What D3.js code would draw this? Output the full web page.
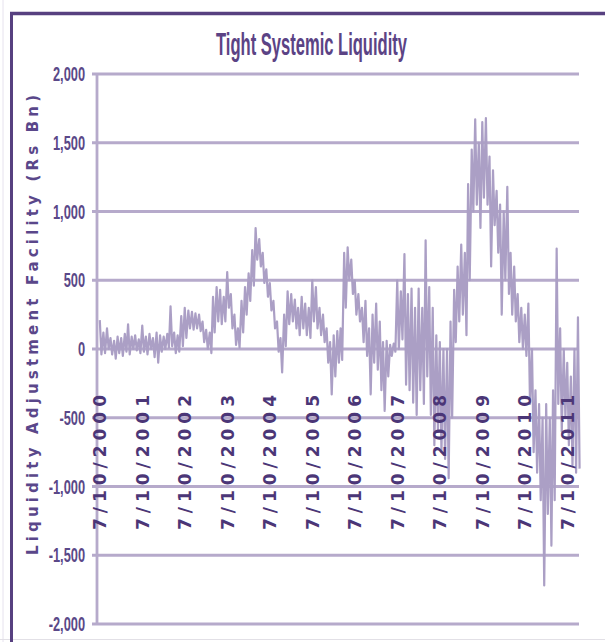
<!DOCTYPE html>
<html>
<head>
<meta charset="utf-8">
<title>Tight Systemic Liquidity</title>
<style>
    body { margin: 0; background: #fff; }
</style>
</head>
<body>
<script src="https://cdn.jsdelivr.net/npm/d3@7"></script>
<script>
    var width = 605, height = 642;

    // LAF, Rs Bn : monthly high / low, Jul 2000 .. Oct 2011
    var firstMonth = new Date(2000, 6, 1);
    var highs = [
        210, 120, 150, 80, 60, 90, 80, 110, 180, 90, 100, 70,
        170, 90, 110, 80, 120, 100, 90, 110, 310, 120, 100, 240,
        300, 280, 270, 260, 250, 200, 140, 120, 380, 450, 430, 380,
        560, 400, 250, 150, 350, 450, 550, 720, 880, 800, 700, 580,
        480, 350, 200, 80, 250, 420, 400, 360, 300, 380, 330, 300,
        500, 450, 300, 250, 150, 50, 100, 130, 150, 700, 740, 650,
        500, 400, 300, 350, 150, 250, 330, 200, 50, 60, 30, 40,
        500, 420, 690, 400, 440, 300, 440, 300, 790, 450, 300, 100,
        50, 0, 0, 200, 430, 600, 760, 700, 1200, 1450, 1670, 1500,
        1650, 1680, 1400, 1300, 1150, 1050, 1000, 1180, 700, 600, 400, 300,
        250, 330, 0, -300, -400, -500, -400, -500, -300, 730, 150, 0,
        -100, -200, 0, 230
    ];
    var lows = [
        -40, -30, 0, -40, -70, -30, -50, -20, -40, 0, -10, -30,
        -20, -40, 0, -60, -100, -20, 0, 10, 20, -30, -20, 20,
        80, 150, 140, 150, 130, 50, 0, -30, 120, 200, 180, 200,
        300, 150, 30, 10, 120, 250, 350, 460, 650, 600, 480, 380,
        280, 150, -20, -170, 20, 180, 200, 150, 100, 150, 100, 80,
        200, 150, 100, 50, -100, -330, -200, -100, -80, 300, 500, 400,
        250, 200, 50, -50, -330, -100, -150, -300, -450, -200, -50, -20,
        0, 70, -260, -300, -390, -480, -300, -400, -200, -480, -700, -600,
        -750, -800, -940, -500, 50, 200, 250, 100, 500, 1000, 1050, 880,
        1100, 1050, 600, 900, 700, 250, 500, 400, 250, 200, 50, 0,
        -50, -400, -750, -900, -1100, -1720, -1200, -1430, -1100, -400, -600, -500,
        -700, -850, -900, -870
    ];
    var tickYears = [2000, 2001, 2002, 2003, 2004, 2005, 2006, 2007, 2008, 2009, 2010, 2011];
    var yTicks = [2000, 1500, 1000, 500, 0, -500, -1000, -1500, -2000];

    var svg = d3.select("body").append("svg")
        .attr("width", width)
        .attr("height", height)
        .style("font-family", "'Liberation Sans', Arial, sans-serif");

    var x = d3.scaleTime()
        .domain([new Date(2000, 5, 14), new Date(2011, 9, 17)])
        .range([97, 579]);
    var y = d3.scaleLinear()
        .domain([-2000, 2000])
        .range([624, 74]);

    // frame
    svg.append("line").attr("x1", 3).attr("x2", 3).attr("y1", 0).attr("y2", height)
        .attr("stroke", "#e6e2ee").attr("stroke-width", 1);
    svg.append("line").attr("x1", 0).attr("x2", width).attr("y1", 639.5).attr("y2", 639.5)
        .attr("stroke", "#e2e0e6").attr("stroke-width", 1);
    svg.append("line").attr("x1", 10).attr("x2", width).attr("y1", 13.5).attr("y2", 13.5)
        .attr("stroke", "#574080").attr("stroke-width", 3.5);
    svg.append("line").attr("x1", 11.5).attr("x2", 11.5).attr("y1", 12).attr("y2", height)
        .attr("stroke", "#574080").attr("stroke-width", 3);

    svg.append("text")
        .attr("x", 216).attr("y", 55)
        .attr("textLength", 191).attr("lengthAdjust", "spacingAndGlyphs")
        .attr("font-size", 32).attr("font-weight", "bold")
        .attr("fill", "#5b4385")
        .text("Tight Systemic Liquidity");

    // gridlines + y axis
    svg.append("g").selectAll("line")
        .data(yTicks)
        .enter().append("line")
        .attr("x1", 92).attr("x2", 579)
        .attr("y1", d => y(d)).attr("y2", d => y(d))
        .attr("stroke", "#b6aacb").attr("stroke-width", 2.8);
    svg.append("line")
        .attr("x1", 97).attr("x2", 97).attr("y1", y(2000)).attr("y2", y(-2000))
        .attr("stroke", "#b6aacb").attr("stroke-width", 2.8);

    svg.append("g").selectAll("text")
        .data(yTicks)
        .enter().append("text")
        .attr("transform", d => "translate(85," + y(d) + ") scale(0.64,1)")
        .attr("dy", "0.36em")
        .attr("text-anchor", "end")
        .attr("font-size", 20).attr("font-weight", "bold")
        .attr("fill", "#5a4888")
        .text(d => d3.format(",")(d).replace("\u2212", "-"));

    svg.append("text")
        .attr("transform", "translate(33,555) rotate(-90)")
        .attr("dy", "0.36em")
        .attr("textLength", 460).attr("lengthAdjust", "spacing")
        .attr("font-family", "'DejaVu Sans', sans-serif")
        .attr("font-size", 15).attr("font-weight", "bold")
        .attr("fill", "#5a478a")
        .text("Liquidity Adjustment Facility (Rs Bn)");

    // zigzag high/low each month
    var pts = [];
    highs.forEach(function (h, i) {
        var m = d3.timeMonth.offset(firstMonth, i);
        pts.push([d3.timeDay.offset(m, 7), h]);
        pts.push([d3.timeDay.offset(m, 21), lows[i]]);
    });

    var line = d3.line()
        .x(d => x(d[0]))
        .y(d => y(d[1]));

    svg.append("path")
        .datum(pts)
        .attr("d", line)
        .attr("fill", "none")
        .attr("stroke", "#ab9fc5")
        .attr("stroke-width", 2.2)
        .attr("stroke-linejoin", "round");

    // rotated date labels hanging under the zero line, over the series
    svg.append("g").selectAll("text")
        .data(tickYears)
        .enter().append("text")
        .attr("transform", d => "translate(" + x(new Date(d, 6, 10)) + ",530) rotate(-90)")
        .attr("dy", "0.36em")
        .attr("textLength", 135).attr("lengthAdjust", "spacing")
        .attr("font-family", "'DejaVu Sans', sans-serif")
        .attr("font-size", 17).attr("font-weight", "bold")
        .attr("fill", "#4b3677")
        .text(d => "7/10/" + d);
</script>
</body>
</html>
